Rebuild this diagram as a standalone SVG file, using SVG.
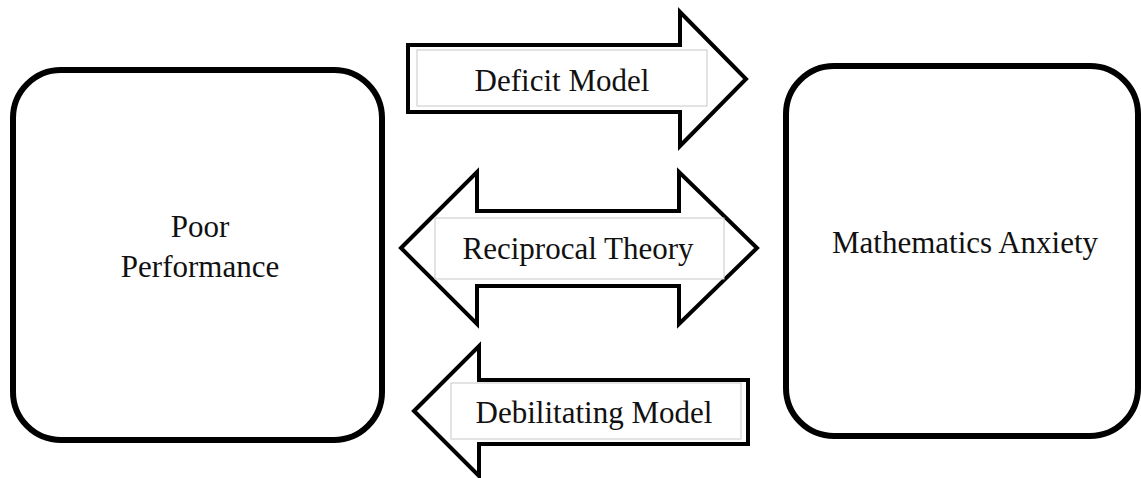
<svg xmlns="http://www.w3.org/2000/svg" width="1141" height="478" viewBox="0 0 1141 478">
<style>
.box{fill:#fff;stroke:#000;stroke-width:6}
.arr{fill:#fff;stroke:#000;stroke-width:4;stroke-linejoin:miter}
.tb{fill:#fff;stroke:#c8c8c8;stroke-width:1}
text{font-family:"Liberation Serif","Times New Roman",serif;font-size:31px;fill:#111;text-anchor:middle}
</style>
<rect width="1141" height="478" fill="#fff"/>
<g id="poor-performance">
<rect class="box" x="13" y="70" width="369" height="370" rx="48"/>
<text x="200" y="237">Poor</text>
<text x="200" y="277">Performance</text>
</g>
<g id="mathematics-anxiety">
<rect class="box" x="786" y="66" width="352" height="370" rx="48"/>
<text x="965" y="253">Mathematics Anxiety</text>
</g>
<g id="connectors">
<g id="deficit-model">
<polygon class="arr" points="408,45 680,45 680,12 746,79 680,146 680,112 408,112"/>
<rect class="tb" x="417" y="50" width="290" height="56"/>
<text x="562" y="91">Deficit Model</text>
</g>
<g id="reciprocal-theory">
<polygon class="arr" points="401,248 477,172 477,211 679,211 679,172 757,248 679,324 679,286 477,286 477,324"/>
<rect class="tb" x="435" y="218" width="289" height="61"/>
<text x="578" y="259">Reciprocal Theory</text>
</g>
<g id="debilitating-model">
<polygon class="arr" points="414,411 479,346 479,380 748,380 748,444 479,444 479,476"/>
<rect class="tb" x="451" y="383" width="290" height="56"/>
<text x="594" y="423">Debilitating Model</text>
</g>
</g>
</svg>
